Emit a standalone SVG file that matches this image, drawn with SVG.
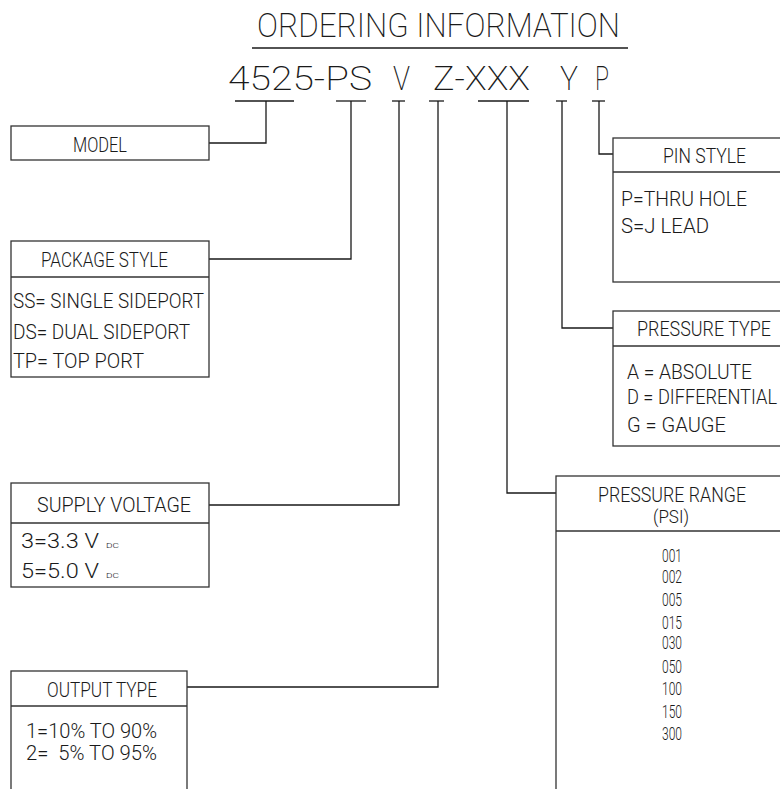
<svg xmlns="http://www.w3.org/2000/svg" width="780" height="789" viewBox="0 0 780 789">
<style>
  text { font-family: Roboto, "Liberation Sans", Arial, sans-serif; font-weight: 300; fill: #1a1a1a; }
  .t { font-size: 21px; }
  .n { font-size: 19px; }
  .big { font-size: 33px; font-weight: 200; }
  .sub { font-size: 7px; }
  .box { fill: #ffffff; stroke: #333333; stroke-width: 1.3; }
  .div { stroke: #333333; stroke-width: 1.3; }
  .ln { fill: none; stroke: #1a1a1a; stroke-width: 1.3; }
</style>
<rect x="0" y="0" width="780" height="789" fill="#ffffff"/>

<g id="title">
  <text class="big" x="257" y="37" textLength="363" lengthAdjust="spacingAndGlyphs">ORDERING INFORMATION</text>
  <line class="ln" x1="252" y1="48" x2="628" y2="48"/>
  <text class="big" x="228" y="90" textLength="144" lengthAdjust="spacingAndGlyphs">4525-PS</text>
  <text class="big" x="393" y="90" textLength="17" lengthAdjust="spacingAndGlyphs">V</text>
  <text class="big" x="433" y="90" textLength="97" lengthAdjust="spacingAndGlyphs">Z-XXX</text>
  <text class="big" x="560" y="90" textLength="18" lengthAdjust="spacingAndGlyphs">Y</text>
  <text class="big" x="595" y="90" textLength="14" lengthAdjust="spacingAndGlyphs">P</text>
</g>

<g id="connectors">
  <line class="ln" x1="235" y1="101" x2="294" y2="101"/>
  <polyline class="ln" points="266,101 266,143 209,143"/>
  <line class="ln" x1="336" y1="101" x2="366" y2="101"/>
  <polyline class="ln" points="351,101 351,259 209,259"/>
  <line class="ln" x1="392" y1="101" x2="405" y2="101"/>
  <polyline class="ln" points="399,101 399,505 209,505"/>
  <line class="ln" x1="429" y1="101" x2="444" y2="101"/>
  <polyline class="ln" points="438,101 438,687 187,687"/>
  <line class="ln" x1="478" y1="101" x2="529" y2="101"/>
  <polyline class="ln" points="507,101 507,493 556,493"/>
  <line class="ln" x1="556" y1="101" x2="567" y2="101"/>
  <polyline class="ln" points="562,101 562,328 613,328"/>
  <line class="ln" x1="592" y1="101" x2="605" y2="101"/>
  <polyline class="ln" points="599,101 599,154 613,154"/>
</g>

<g id="model">
  <rect class="box" x="11" y="126" width="198" height="34"/>
  <text class="t" x="73" y="152" textLength="54" lengthAdjust="spacingAndGlyphs">MODEL</text>
</g>

<g id="package-style">
  <rect class="box" x="11" y="241" width="198" height="136"/>
  <line class="div" x1="11" y1="277" x2="209" y2="277"/>
  <text class="t" x="41" y="267" textLength="127" lengthAdjust="spacingAndGlyphs">PACKAGE STYLE</text>
  <text class="t" x="13" y="308" textLength="191" lengthAdjust="spacingAndGlyphs">SS= SINGLE SIDEPORT</text>
  <text class="t" x="13" y="339" textLength="177" lengthAdjust="spacingAndGlyphs">DS= DUAL SIDEPORT</text>
  <text class="t" x="13" y="368" textLength="131" lengthAdjust="spacingAndGlyphs">TP= TOP PORT</text>
</g>

<g id="supply-voltage">
  <rect class="box" x="11" y="483" width="198" height="104"/>
  <line class="div" x1="11" y1="523" x2="209" y2="523"/>
  <text class="t" x="37" y="512" textLength="154" lengthAdjust="spacingAndGlyphs">SUPPLY VOLTAGE</text>
  <text class="t" x="21" y="548" textLength="78" lengthAdjust="spacingAndGlyphs">3=3.3 V</text>
  <text class="sub" x="106" y="548" textLength="13" lengthAdjust="spacingAndGlyphs">DC</text>
  <text class="t" x="21" y="578" textLength="78" lengthAdjust="spacingAndGlyphs">5=5.0 V</text>
  <text class="sub" x="106" y="578" textLength="13" lengthAdjust="spacingAndGlyphs">DC</text>
</g>

<g id="output-type">
  <rect class="box" x="11" y="671" width="176" height="130"/>
  <line class="div" x1="11" y1="706" x2="187" y2="706"/>
  <text class="t" x="47" y="697" textLength="110" lengthAdjust="spacingAndGlyphs">OUTPUT TYPE</text>
  <text class="t" x="26" y="738" textLength="131" lengthAdjust="spacingAndGlyphs">1=10% TO 90%</text>
  <text class="t" x="26" y="760" textLength="131" lengthAdjust="spacingAndGlyphs" xml:space="preserve">2=  5% TO 95%</text>
</g>

<g id="pin-style">
  <rect class="box" x="613" y="138" width="180" height="144"/>
  <line class="div" x1="613" y1="172" x2="793" y2="172"/>
  <text class="t" x="663" y="163" textLength="83" lengthAdjust="spacingAndGlyphs">PIN STYLE</text>
  <text class="t" x="621" y="206" textLength="126" lengthAdjust="spacingAndGlyphs">P=THRU HOLE</text>
  <text class="t" x="621" y="233" textLength="88" lengthAdjust="spacingAndGlyphs">S=J LEAD</text>
</g>

<g id="pressure-type">
  <rect class="box" x="613" y="311" width="180" height="135"/>
  <line class="div" x1="613" y1="346" x2="793" y2="346"/>
  <text class="t" x="637" y="336" textLength="134" lengthAdjust="spacingAndGlyphs">PRESSURE TYPE</text>
  <text class="t" x="627" y="379" textLength="125" lengthAdjust="spacingAndGlyphs">A = ABSOLUTE</text>
  <text class="t" x="627" y="404" textLength="150" lengthAdjust="spacingAndGlyphs">D = DIFFERENTIAL</text>
  <text class="t" x="627" y="432" textLength="99" lengthAdjust="spacingAndGlyphs">G = GAUGE</text>
</g>

<g id="pressure-range">
  <rect class="box" x="556" y="476" width="240" height="330"/>
  <line class="div" x1="556" y1="531" x2="796" y2="531"/>
  <text class="t" x="598" y="502" textLength="148" lengthAdjust="spacingAndGlyphs">PRESSURE RANGE</text>
  <text class="n" x="653" y="523" textLength="36" lengthAdjust="spacingAndGlyphs">(PSI)</text>
  <text class="n" x="662" y="562" textLength="20" lengthAdjust="spacingAndGlyphs">001</text>
  <text class="n" x="662" y="583" textLength="20" lengthAdjust="spacingAndGlyphs">002</text>
  <text class="n" x="662" y="606" textLength="20" lengthAdjust="spacingAndGlyphs">005</text>
  <text class="n" x="662" y="629" textLength="20" lengthAdjust="spacingAndGlyphs">015</text>
  <text class="n" x="662" y="649" textLength="20" lengthAdjust="spacingAndGlyphs">030</text>
  <text class="n" x="662" y="673" textLength="20" lengthAdjust="spacingAndGlyphs">050</text>
  <text class="n" x="662" y="695" textLength="20" lengthAdjust="spacingAndGlyphs">100</text>
  <text class="n" x="662" y="718" textLength="20" lengthAdjust="spacingAndGlyphs">150</text>
  <text class="n" x="662" y="740" textLength="20" lengthAdjust="spacingAndGlyphs">300</text>
</g>
</svg>
